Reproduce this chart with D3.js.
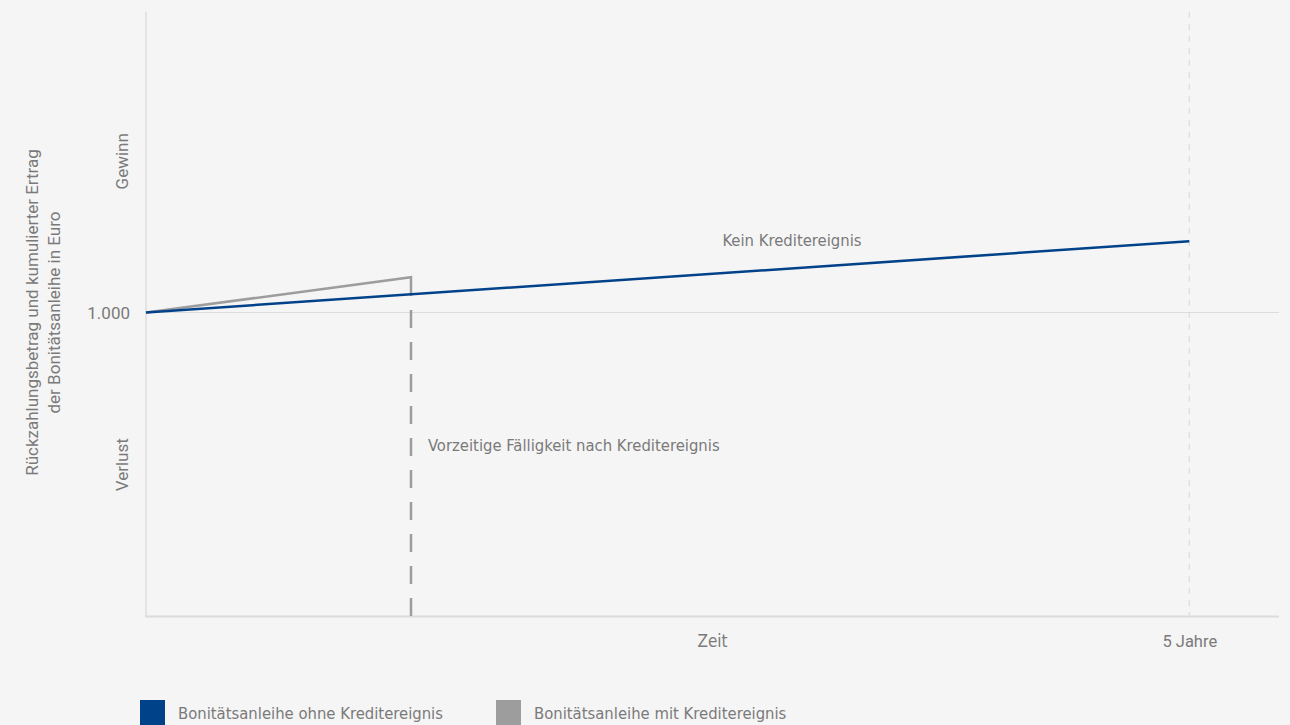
<!DOCTYPE html>
<html>
<head>
<meta charset="utf-8">
<script src="https://cdn.jsdelivr.net/npm/d3@7"></script>
<style>
  html, body { margin: 0; padding: 0; background: #f5f5f5; }
  svg { display: block; }
  .label { font-family: Roboto, "Liberation Sans", sans-serif; fill: #7a7a7a; }
  .narrow { font-family: "Liberation Sans Narrow", "DejaVu Sans Condensed", sans-serif; fill: #7a7a7a; }
</style>
</head>
<body>
<svg class="graph" width="1290" height="725"></svg>
<script>
// data
var years = [0, 5];
var ohneValues = [1000, 1023.5];            // Bonitätsanleihe ohne Kreditereignis
var eventYear = 1.27;                        // Kreditereignis
var mitYears = [0, eventYear, eventYear];
var mitValues = [1000, 1011.6, 1006];        // Bonitätsanleihe mit Kreditereignis
var yTickValues = [950, 1000, 1050];
var yTickLabels = ["Verlust", "1.000", "Gewinn"];
var xTickValues = [5];
var xTickLabels = ["5 Jahre"];
var legendNames = ["Bonitätsanleihe ohne Kreditereignis", "Bonitätsanleihe mit Kreditereignis"];
var legendColors = ["#00428a", "#9d9d9d"];

var width = 1290, height = 725;
var margin = {top: 12, left: 146, right: 11, bottom: 109};
var chartWidth = width - margin.left - margin.right;
var chartHeight = height - margin.top - margin.bottom;

var svg = d3.select(".graph");

var x = d3.scaleLinear().domain([0, 5.43]).range([margin.left, margin.left + chartWidth]);
var y = d3.scaleLinear().domain([900, 1100]).range([margin.top + chartHeight, margin.top - 3]);

var axisColor = "#dcdcdc";

// baseline 1.000
svg.append("line")
  .attr("x1", x(0)).attr("x2", x.range()[1])
  .attr("y1", y(1000)).attr("y2", y(1000))
  .attr("stroke", axisColor).attr("stroke-width", 1.2);

// 5 Jahre dashed marker
svg.append("line")
  .attr("x1", x(5)).attr("x2", x(5))
  .attr("y1", margin.top).attr("y2", y(900))
  .attr("stroke", axisColor).attr("stroke-width", 1.2)
  .attr("stroke-dasharray", "6,6");

// axes
svg.append("line")
  .attr("x1", x(0)).attr("x2", x(0))
  .attr("y1", margin.top).attr("y2", y(900) + 1)
  .attr("stroke", axisColor).attr("stroke-width", 1.5);
svg.append("line")
  .attr("x1", x(0) - 0.75).attr("x2", x.range()[1])
  .attr("y1", y(900) + 0.5).attr("y2", y(900) + 0.5)
  .attr("stroke", axisColor).attr("stroke-width", 2);

// y tick labels
var yAxis = svg.append("g")
  .attr("transform", "translate(" + x(0) + ",0)")
  .call(d3.axisLeft(y).tickValues(yTickValues).tickSize(0).tickPadding(16)
    .tickFormat(function (d, i) { return yTickLabels[i]; }));
yAxis.select(".domain").remove();
yAxis.selectAll("text")
  .attr("class", "label")
  .attr("font-size", 17)
  .attr("fill", null)
  .attr("dy", "0.36em")
  .each(function (d) {
    if (d !== 1000) {
      d3.select(this)
        .attr("text-anchor", "middle")
        .attr("x", null).attr("dy", null)
        .attr("transform", "translate(-18," + 0 + ") rotate(-90)");
    }
  });

// x tick labels
var xAxis = svg.append("g")
  .attr("transform", "translate(0," + y(900) + ")")
  .call(d3.axisBottom(x).tickValues(xTickValues).tickSize(0).tickPadding(0)
    .tickFormat(function (d, i) { return xTickLabels[i]; }));
xAxis.select(".domain").remove();
xAxis.selectAll("text")
  .attr("class", "label")
  .attr("font-size", 16.5)
  .attr("fill", null)
  .attr("y", 31).attr("dy", null);

svg.append("text")
  .attr("class", "narrow")
  .attr("font-size", 17)
  .attr("text-anchor", "middle")
  .attr("x", (x.range()[0] + x.range()[1]) / 2)
  .attr("y", y(900) + 31)
  .text("Zeit");

// y axis title
var title = svg.append("text")
  .attr("class", "label")
  .attr("font-size", 17)
  .attr("text-anchor", "middle")
  .attr("transform", "translate(38," + y(1000) + ") rotate(-90)");
title.append("tspan").attr("x", 0).attr("dy", 0).text("Rückzahlungsbetrag und kumulierter Ertrag");
title.append("tspan").attr("x", 0).attr("dy", 22).text("der Bonitätsanleihe in Euro");

var line = d3.line()
  .x(function (d) { return x(d[0]); })
  .y(function (d) { return y(d[1]); });

// dashed drop after credit event
svg.append("line")
  .attr("x1", x(eventYear)).attr("x2", x(eventYear))
  .attr("y1", y(900)).attr("y2", y(mitValues[2]))
  .attr("stroke", legendColors[1]).attr("stroke-width", 2.5)
  .attr("stroke-dasharray", "18,14");

// mit Kreditereignis
svg.append("path")
  .datum(d3.zip(mitYears, mitValues))
  .attr("d", line)
  .attr("fill", "none")
  .attr("stroke", legendColors[1])
  .attr("stroke-width", 2.5);

// ohne Kreditereignis
svg.append("path")
  .datum(d3.zip(years, ohneValues))
  .attr("d", line)
  .attr("fill", "none")
  .attr("stroke", legendColors[0])
  .attr("stroke-width", 2.5);

// annotations
svg.append("text")
  .attr("class", "narrow")
  .attr("font-size", 16.5)
  .attr("x", x(eventYear) + 17)
  .attr("y", 451)
  .text("Vorzeitige Fälligkeit nach Kreditereignis");

svg.append("text")
  .attr("class", "narrow")
  .attr("font-size", 16.5)
  .attr("text-anchor", "middle")
  .attr("x", 792)
  .attr("y", 246)
  .text("Kein Kreditereignis");

// legend
var legendX = [140, 496];
var legend = svg.append("g").selectAll("g")
  .data(legendNames)
  .enter().append("g")
  .attr("transform", function (d, i) { return "translate(" + legendX[i] + ",700)"; });
legend.append("rect")
  .attr("width", 25).attr("height", 25)
  .attr("fill", function (d, i) { return legendColors[i]; });
legend.append("text")
  .attr("class", "narrow")
  .attr("font-size", 16.5)
  .attr("x", 38).attr("y", 19)
  .text(function (d) { return d; });
</script>
</body>
</html>
